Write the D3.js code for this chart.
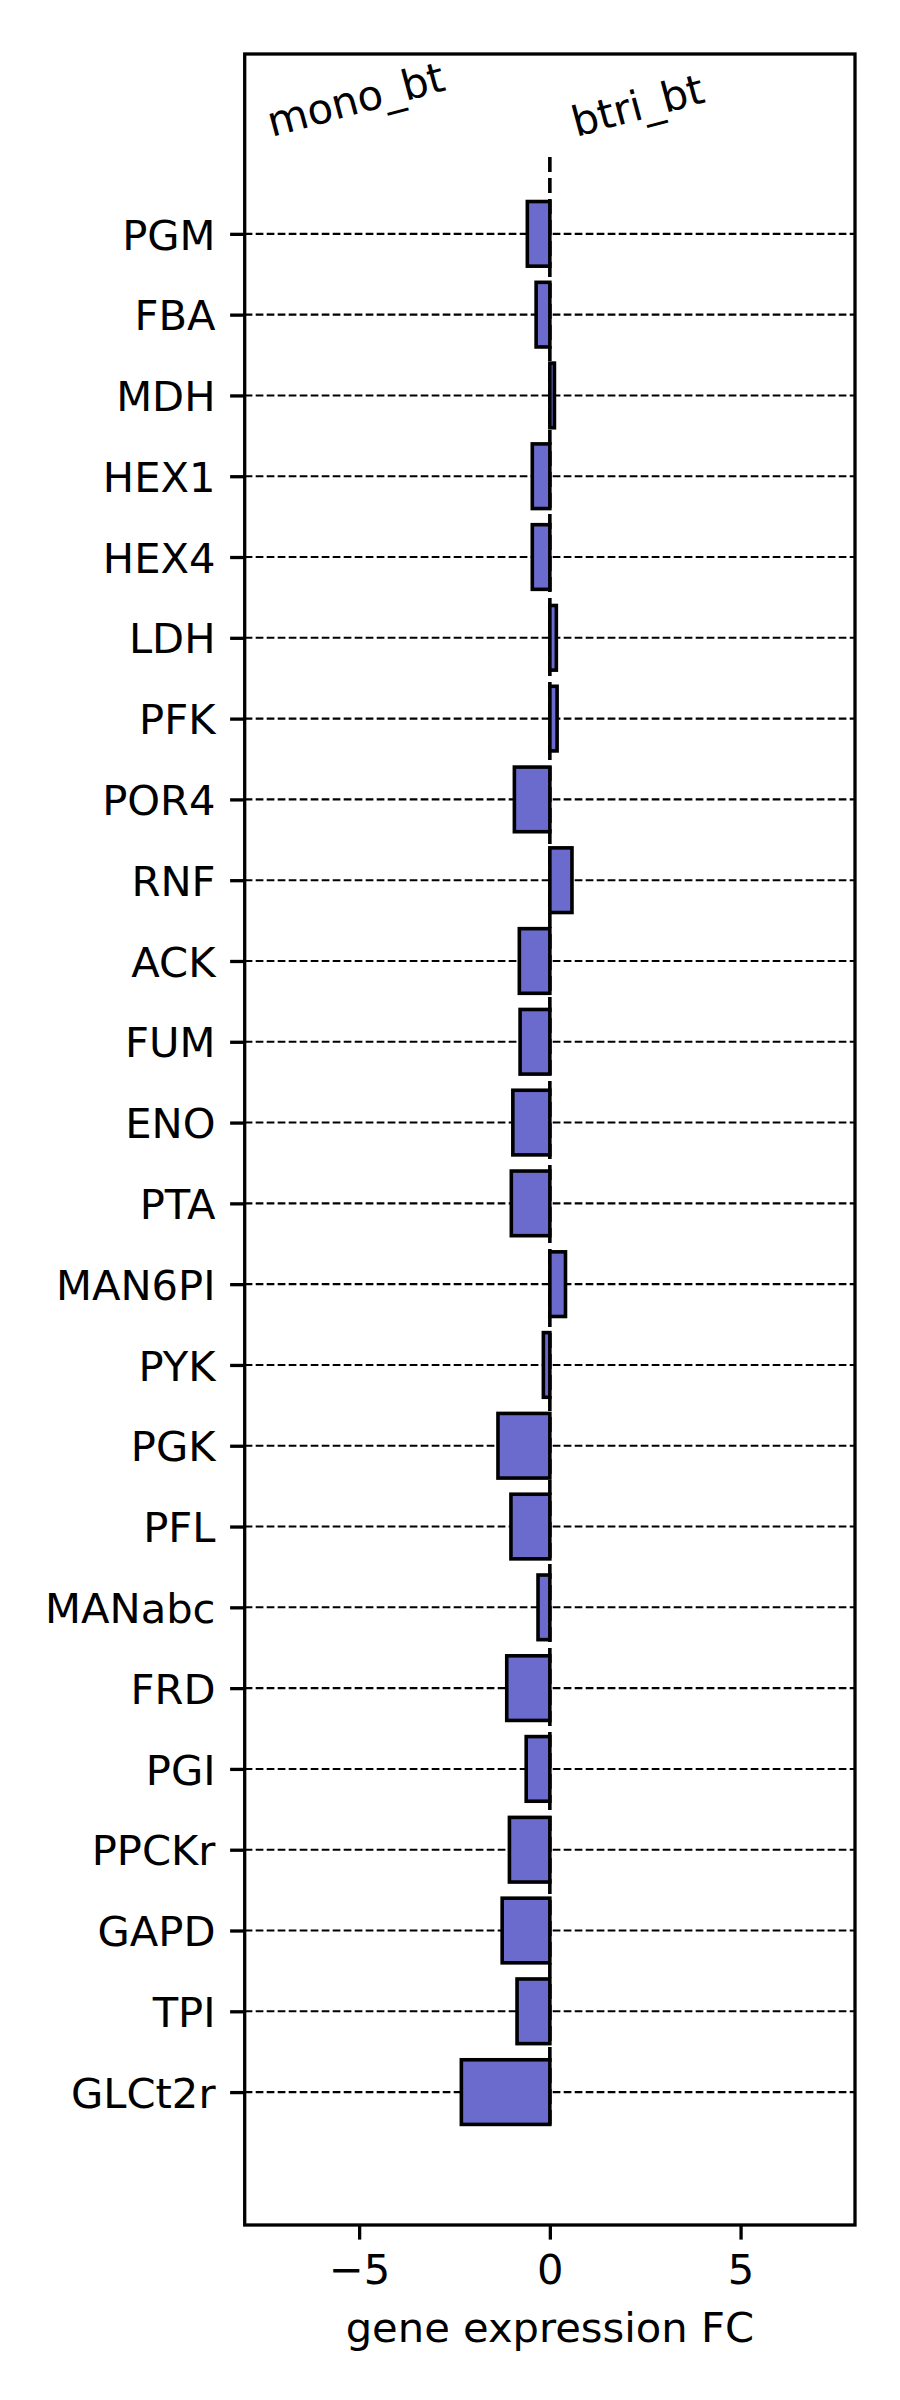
<!DOCTYPE html>
<html>
<head>
<meta charset="utf-8">
<script src="https://cdn.jsdelivr.net/npm/d3@7"></script>
<style>
  html, body { margin: 0; padding: 0; background: #ffffff; }
  svg { display: block; }
  text { font-family: "DejaVu Sans", sans-serif; fill: #000; }
</style>
</head>
<body>
<div id="chart"></div>
<script>
// ---- data (top to bottom as displayed) ----
const genes = ["PGM","FBA","MDH","HEX1","HEX4","LDH","PFK","POR4","RNF","ACK","FUM","ENO",
               "PTA","MAN6PI","PYK","PGK","PFL","MANabc","FRD","PGI","PPCKr","GAPD","TPI","GLCt2r"];
const foldChange = [-0.59,-0.36,0.12,-0.46,-0.46,0.17,0.19,-0.93,0.58,-0.80,-0.78,-0.97,
                    -1.01,0.41,-0.17,-1.36,-1.02,-0.31,-1.13,-0.62,-1.06,-1.25,-0.86,-2.32];
const xTickValues = [-5, 0, 5];
const xDomain = [-8, 8];
const groupLabels = ["mono_bt", "btri_bt"];
const groupLabelX = [-7.29, 0.69];
const groupLabelY = 24.2;
const xAxisTitle = "gene expression FC";

// ---- layout ----
const W = 900, H = 2400;
const plot = { left: 244.7, right: 855, top: 54, bottom: 2225 };
const n = genes.length;
const fontPx = 41.67;
const tickLen = 14.6;
const lw = 3.3;

const svg = d3.select("#chart").append("svg")
  .attr("width", W).attr("height", H)
  .attr("viewBox", `0 0 ${W} ${H}`);
svg.append("rect").attr("width", W).attr("height", H).attr("fill", "#fff");

const x = d3.scaleLinear().domain(xDomain).range([plot.left, plot.right]);
// index: bottom category = 0, top category = n-1
const y = d3.scaleLinear().domain([-1.645, 25.226]).range([plot.bottom, plot.top]);
const idx = i => n - 1 - i;
const barH = 0.8;

// horizontal dashed grid lines at each category
svg.append("g").selectAll("line").data(genes).join("line")
  .attr("x1", plot.left).attr("x2", plot.right)
  .attr("y1", (d, i) => y(idx(i))).attr("y2", (d, i) => y(idx(i)))
  .attr("stroke", "#000").attr("stroke-width", 2.08)
  .attr("stroke-dasharray", "7.7,3.3");

// vertical dashed zero line
svg.append("line")
  .attr("x1", x(0)).attr("x2", x(0))
  .attr("y1", y(23.95)).attr("y2", y(-0.4))
  .attr("stroke", "#000").attr("stroke-width", 3.6)
  .attr("stroke-dasharray", "15,6");

// bars
svg.append("g").selectAll("rect").data(foldChange).join("rect")
  .attr("x", d => x(Math.min(0, d)))
  .attr("width", d => Math.abs(x(d) - x(0)))
  .attr("y", (d, i) => y(idx(i) + barH / 2))
  .attr("height", (d, i) => y(idx(i) - barH / 2) - y(idx(i) + barH / 2))
  .attr("fill", "#6b6bcd")
  .attr("stroke", "#000").attr("stroke-width", 3.6);

// y axis
const yAxis = d3.axisLeft(y)
  .tickValues(d3.range(n))
  .tickFormat(v => genes[n - 1 - v])
  .tickSize(tickLen).tickPadding(tickLen);
const gy = svg.append("g").attr("transform", `translate(${plot.left},0)`).call(yAxis);
gy.select(".domain").remove();
gy.selectAll(".tick line").attr("stroke", "#000").attr("stroke-width", lw);
gy.selectAll(".tick text").attr("font-size", fontPx).attr("dy", "0.364em")
  .attr("font-family", "DejaVu Sans").attr("fill", "#000");

// x axis
const xAxis = d3.axisBottom(x)
  .tickValues(xTickValues)
  .tickFormat(v => v < 0 ? "\u2212" + Math.abs(v) : String(v))
  .tickSize(tickLen).tickPadding(tickLen);
const gx = svg.append("g").attr("transform", `translate(0,${plot.bottom})`).call(xAxis);
gx.select(".domain").remove();
gx.selectAll(".tick line").attr("stroke", "#000").attr("stroke-width", lw);
gx.selectAll(".tick text").attr("font-size", fontPx)
  .attr("font-family", "DejaVu Sans").attr("fill", "#000");

// spines
svg.append("rect")
  .attr("x", plot.left).attr("y", plot.top)
  .attr("width", plot.right - plot.left).attr("height", plot.bottom - plot.top)
  .attr("fill", "none").attr("stroke", "#000").attr("stroke-width", lw);

// group labels (rotated)
svg.append("g").selectAll("text").data(groupLabels).join("text")
  .attr("transform", (d, i) => `translate(${x(groupLabelX[i])},${y(groupLabelY)}) rotate(-15)`)
  .attr("font-size", fontPx)
  .text(d => d);

// x axis title
svg.append("text")
  .attr("x", (plot.left + plot.right) / 2)
  .attr("y", 2342)
  .attr("text-anchor", "middle")
  .attr("font-size", fontPx)
  .text(xAxisTitle);
</script>
</body>
</html>
